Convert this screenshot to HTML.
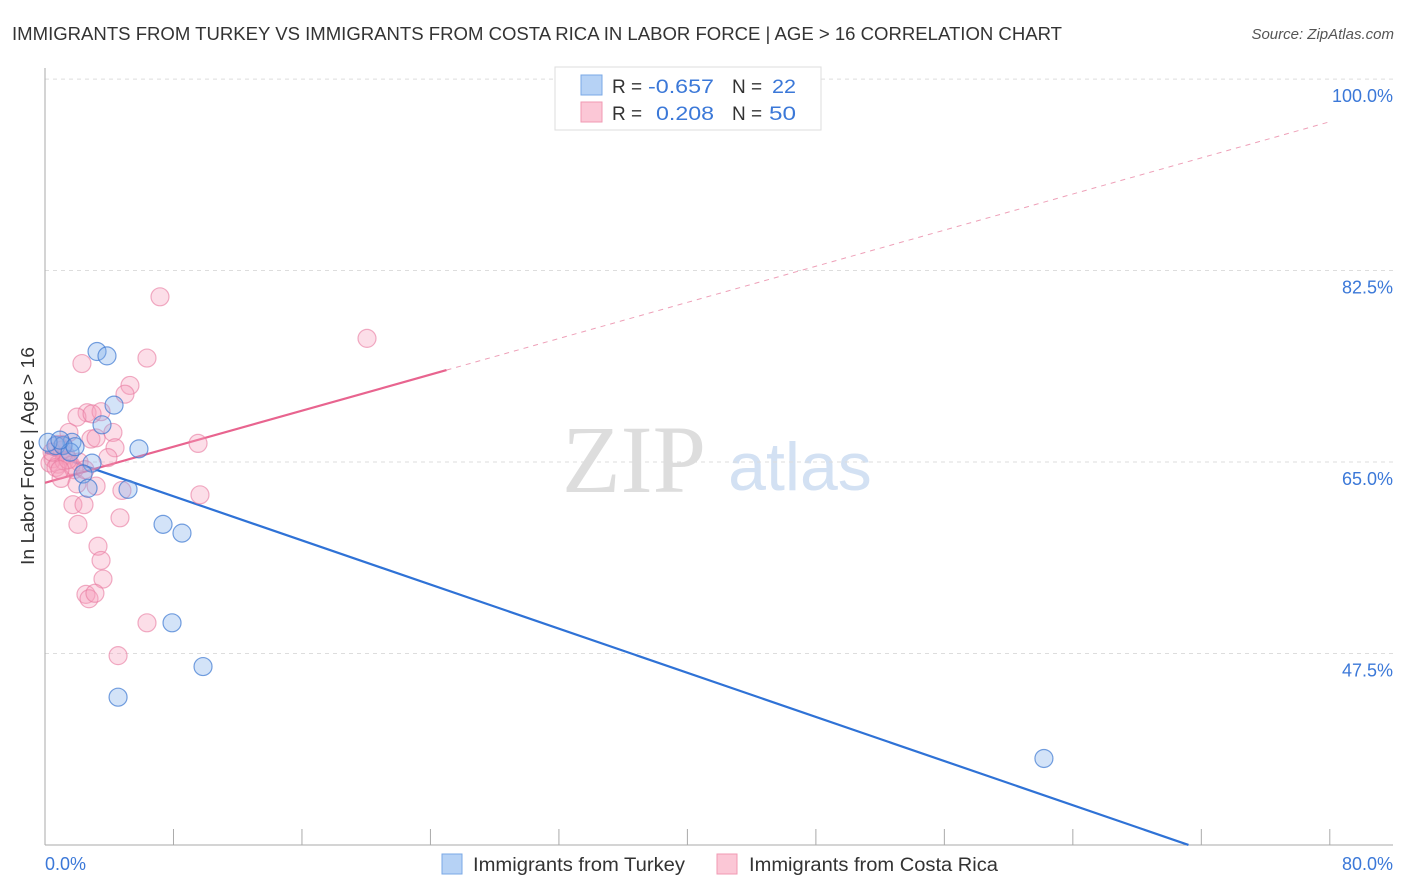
<!DOCTYPE html>
<html><head><meta charset="utf-8"><style>
body{margin:0;background:#fff;font-family:"Liberation Sans",sans-serif;}
svg{display:block}
</style></head><body>
<svg id="chart" width="1406" height="892" xmlns="http://www.w3.org/2000/svg">
<text x="12" y="40" font-size="18" fill="#333" textLength="1050" lengthAdjust="spacingAndGlyphs">IMMIGRANTS FROM TURKEY VS IMMIGRANTS FROM COSTA RICA IN LABOR FORCE | AGE &gt; 16 CORRELATION CHART</text>
<text x="1394" y="39" font-size="15" fill="#555" font-style="italic" text-anchor="end">Source: ZipAtlas.com</text>
<text x="634" y="492" font-size="96" fill="#ddd" font-family="Liberation Serif,serif" text-anchor="middle">ZIP</text>
<text x="800" y="490" font-size="68" fill="#d3e1f3" text-anchor="middle">atlas</text>
<g id="grid"></g><g id="axes"></g><g id="trend"></g><g id="pts"></g>
<text transform="translate(34,456) rotate(-90)" font-size="18" fill="#333" text-anchor="middle" textLength="218" lengthAdjust="spacingAndGlyphs">In Labor Force | Age &gt; 16</text>
<text x="45" y="870" font-size="18" fill="#3b78d8">0.0%</text>
<text x="1393" y="870" font-size="18" fill="#3b78d8" text-anchor="end">80.0%</text>
<g>
<rect x="555" y="67" width="266" height="63" fill="#fff" stroke="#ddd"/>
<rect x="581" y="75" width="21" height="20" fill="#b6d2f5" stroke="#7aa8e6"/>
<rect x="581" y="102" width="21" height="20" fill="#fbc7d6" stroke="#f09ab3"/>
<text x="612" y="93" font-size="19" fill="#333">R = </text><text x="648" y="93" font-size="19" fill="#3b78d8" textLength="66" lengthAdjust="spacingAndGlyphs">-0.657</text>
<text x="732" y="93" font-size="19" fill="#333">N = </text><text x="772" y="93" font-size="19" fill="#3b78d8" textLength="24" lengthAdjust="spacingAndGlyphs">22</text>
<text x="612" y="120" font-size="19" fill="#333">R = </text><text x="656" y="120" font-size="19" fill="#3b78d8" textLength="58" lengthAdjust="spacingAndGlyphs">0.208</text>
<text x="732" y="120" font-size="19" fill="#333">N = </text><text x="769" y="120" font-size="19" fill="#3b78d8" textLength="27" lengthAdjust="spacingAndGlyphs">50</text>
</g>
<g>
<rect x="442" y="854" width="20" height="20" fill="#b6d2f5" stroke="#7aa8e6"/>
<text x="473" y="871" font-size="19" fill="#333" textLength="212" lengthAdjust="spacingAndGlyphs">Immigrants from Turkey</text>
<rect x="717" y="854" width="20" height="20" fill="#fbc7d6" stroke="#f09ab3"/>
<text x="749" y="871" font-size="19" fill="#333" textLength="249" lengthAdjust="spacingAndGlyphs">Immigrants from Costa Rica</text>
</g>
</svg>
<script>
const yTicks=[100,82.5,65,47.5];
const xTicks=[0,8,16,24,32,40,48,56,64,72,80];
const turkeyX=[3.24,3.86,4.3,3.55,5.85,1.68,0.68,1.12,1.56,2.93,2.37,2.68,5.17,7.35,8.53,7.91,9.84,4.55,62.2,0.19,0.93,1.87];
const turkeyY=[75.1,74.7,70.2,68.4,66.2,66.8,66.5,66.5,65.9,64.9,63.9,62.6,62.5,59.3,58.5,50.3,46.3,43.5,37.9,66.8,67.0,66.4];
const costaX=[7.16,20.05,2.3,6.35,5.29,4.98,2.62,3.49,1.99,2.93,4.23,1.49,2.86,3.18,4.36,9.53,3.92,0.75,1.06,1.31,0.5,0.31,0.81,1.18,1.62,2.12,0.68,1.81,1.0,1.99,3.18,4.79,9.65,1.74,2.43,4.67,2.05,3.3,3.49,3.61,2.55,2.74,3.11,6.35,4.55,1.43,0.44,1.12,0.93,2.49];
const costaY=[80.1,76.3,74.0,74.5,72.0,71.2,69.5,69.6,69.1,69.4,67.7,67.7,67.1,67.2,66.3,66.7,65.4,66.6,66.1,65.6,65.3,64.9,64.8,65.1,64.7,65.0,64.5,64.3,63.5,63.0,62.8,62.4,62.0,61.1,61.1,59.9,59.3,57.3,56.0,54.3,52.9,52.5,53.0,50.3,47.3,65.2,65.9,66.6,64.3,64.3];
const turkeyTrend=[[0,65.9],[71.2,30]];
const costaTrend=[[0,63.1],[25,73.4],[80,96.1]];
const NS='http://www.w3.org/2000/svg';
const X=v=>45+v*16.06, Y=v=>462-(v-65)*10.94;
function mk(t,a,p){const e=document.createElementNS(NS,t);for(const k in a)e.setAttribute(k,a[k]);p.appendChild(e);return e;}
const grid=document.getElementById('grid'),axes=document.getElementById('axes'),trend=document.getElementById('trend'),pts=document.getElementById('pts');
yTicks.forEach(t=>{const l=mk('line',{x1:45,x2:1393,y1:Y(t),y2:Y(t),stroke:'#ddd','stroke-dasharray':'4,4'},grid);


const tx=mk('text',{x:1393,y:Y(t)+23,'font-size':18,fill:'#3b78d8','text-anchor':'end'},grid);tx.textContent=t.toFixed(1)+'%';

});
const ya=mk('line',{x1:45,x2:45,y1:68,y2:845,stroke:'#aaa'},axes);


const xa=mk('line',{x1:45,x2:1393,y1:845,y2:845,stroke:'#aaa'},axes);


xTicks.forEach(t=>{const l=mk('line',{x1:X(t),x2:X(t),y1:829,y2:845,stroke:'#aaa'},axes);

});
const tb=mk('line',{x1:X(turkeyTrend[0][0]),y1:Y(turkeyTrend[0][1]),x2:X(turkeyTrend[1][0]),y2:Y(turkeyTrend[1][1]),stroke:'#2f72d6','stroke-width':2.2},trend);


const cs=mk('line',{x1:X(costaTrend[0][0]),y1:Y(costaTrend[0][1]),x2:X(costaTrend[1][0]),y2:Y(costaTrend[1][1]),stroke:'#e8648f','stroke-width':2.2},trend);


const cd=mk('line',{x1:X(costaTrend[1][0]),y1:Y(costaTrend[1][1]),x2:X(costaTrend[2][0]),y2:Y(costaTrend[2][1]),stroke:'#eea0b8','stroke-width':1,'stroke-dasharray':'5,5'},trend);


costaX.forEach((v,i)=>{const c=mk('circle',{cx:X(v),cy:Y(costaY[i]),r:9,fill:'rgba(246,160,188,0.35)',stroke:'rgba(232,120,158,0.6)','stroke-width':1.2},pts);

});
turkeyX.forEach((v,i)=>{const c=mk('circle',{cx:X(v),cy:Y(turkeyY[i]),r:9,fill:'rgba(130,175,235,0.35)',stroke:'rgba(60,120,210,0.7)','stroke-width':1.2},pts);

});
</script>
</body></html>
